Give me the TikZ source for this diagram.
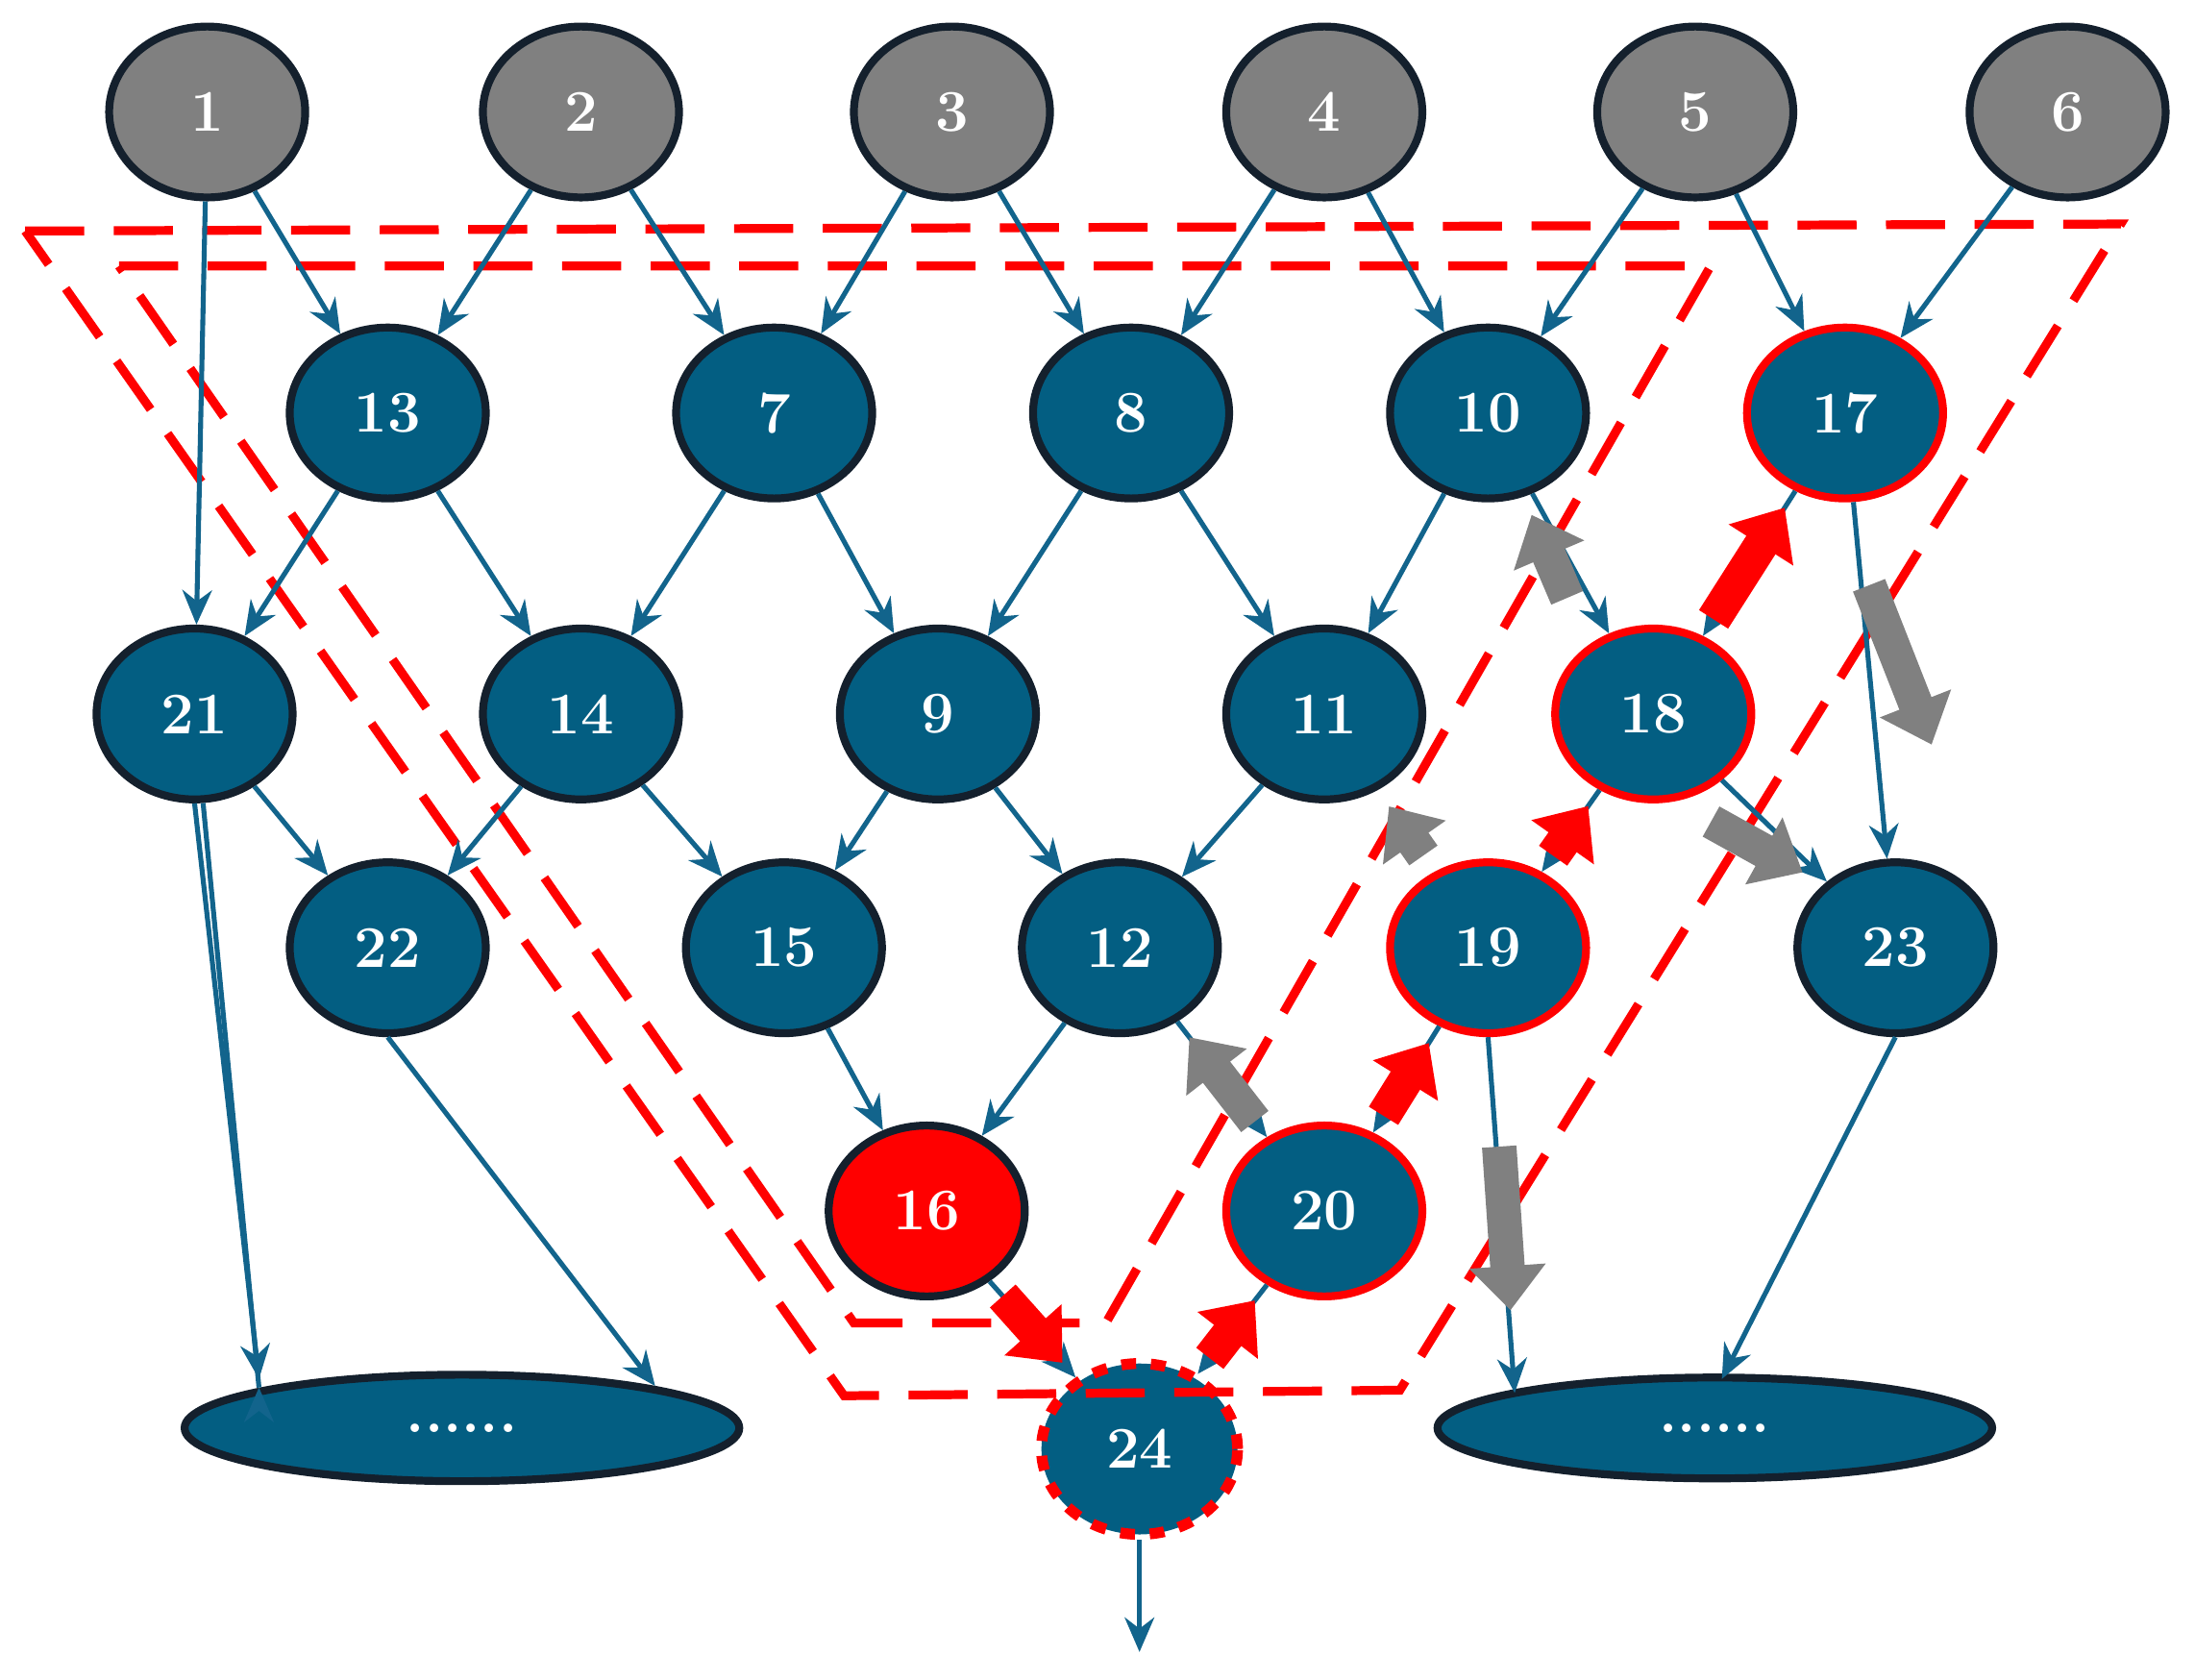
\documentclass[tikz,border=0pt]{standalone}
\usepackage{tikz}
\usetikzlibrary{shapes.geometric,arrows.meta,positioning}
\definecolor{netblue}{RGB}{3,94,130}
\definecolor{netedge}{RGB}{20,32,45}
\definecolor{netarrow}{RGB}{18,100,140}
\definecolor{netgray}{RGB}{128,128,128}
\tikzset{
    unit/.style={ellipse, draw=netedge, line width=1.6pt, fill=netblue, minimum width=1.4cm, minimum height=1.22cm,
        text=white, font=\fontsize{12}{14}\selectfont\bfseries},
    src/.style={unit, fill=netgray},
    hit/.style={unit, draw=red},
    thin/.style={-{Stealth[length=7pt,width=6pt]}, netarrow, line width=1pt},
    fat/.style={-{Triangle[length=9pt,width=15pt]}, line width=7pt, shorten >=4pt, shorten <=4pt},
    box/.style={red, dashed, line width=1.8pt, dash pattern=on 12pt off 6pt}
}
\begin{document}
\begin{tikzpicture}[x=0.01cm,y=-0.01cm]
    \useasboundingbox (0,0) rectangle (1568,1200);
    % inputs
    \foreach \n/\x in {1/148,2/415,3/680,4/946,5/1211,6/1477}
        \node[src] (n\n) at (\x,80) {\n};
    % hidden rows
    \foreach \n/\x in {13/277,7/553,8/808,10/1063}
        \node[unit] (n\n) at (\x,295) {\n};
    \node[hit] (n17) at (1318,295) {17};
    \foreach \n/\x in {21/139,14/415,9/670,11/946}
        \node[unit] (n\n) at (\x,510) {\n};
    \node[hit] (n18) at (1181,510) {18};
    \foreach \n/\x in {22/277,15/560,12/800,23/1354}
        \node[unit] (n\n) at (\x,677) {\n};
    \node[hit] (n19) at (1063,677) {19};
    \node[unit, fill=red] (n16) at (662,865) {16};
    \node[hit] (n20) at (946,865) {20};
    \node[unit, draw=red, dashed, line width=2.2pt] (n24) at (814,1035) {24};
    \node[unit, minimum width=3.96cm, minimum height=0.76cm] (left) at (330,1020) {......};
    \node[unit, minimum width=3.96cm, minimum height=0.72cm] (right) at (1225,1020) {......};
    \coordinate (out) at (814,1180);

    % dashed regions
    \draw[box] (18,165) -- (1515,160) -- (1000,993) -- (603,997) -- cycle;
    \draw[box] (85,190) -- (1222,190) -- (790,945) -- (610,945) -- cycle;

    % thin connections
    \foreach \a/\b in {1/13,1/21,2/13,2/7,3/7,3/8,4/8,4/10,5/10,5/17,6/17,
        13/21,13/14,7/14,7/9,8/9,8/11,10/11,10/18,17/18,17/23,
        21/22,14/22,14/15,9/15,9/12,11/12,18/19,18/23,
        15/16,12/16,12/20,19/20,16/24,20/24}
        \draw[thin] (n\a) -- (n\b);
    \draw[thin] (n21) -- (left.north west -| 185,0) ++(0,0);
    \draw[thin] (n21.south) -- (185,985);
    \draw[thin] (n22.south) -- (468,990);
    \draw[thin] (n19.south) -- (1082,995);
    \draw[thin] (n23.south) -- (1230,985);
    \draw[thin] (n24) -- (out);

    % gray flows
    \draw[fat, netgray] (1125,440) -- (n10);
    \draw[fat, netgray] (n19) -- (n11);
    \draw[fat, netgray] (n20) -- (n12);
    \draw[fat, netgray] (1330,405) -- (1385,545);
    \draw[fat, netgray] (1210,580) -- (1300,630);
    \draw[fat, netgray] (1070,805) -- (1080,950);
    % red flows
    \draw[fat, red] (n18) -- (n17);
    \draw[fat, red] (n19) -- (n18);
    \draw[fat, red] (n20) -- (n19);
    \draw[fat, red] (n16) -- (n24);
    \draw[fat, red] (n24) -- (n20);
\end{tikzpicture}
\end{document}
